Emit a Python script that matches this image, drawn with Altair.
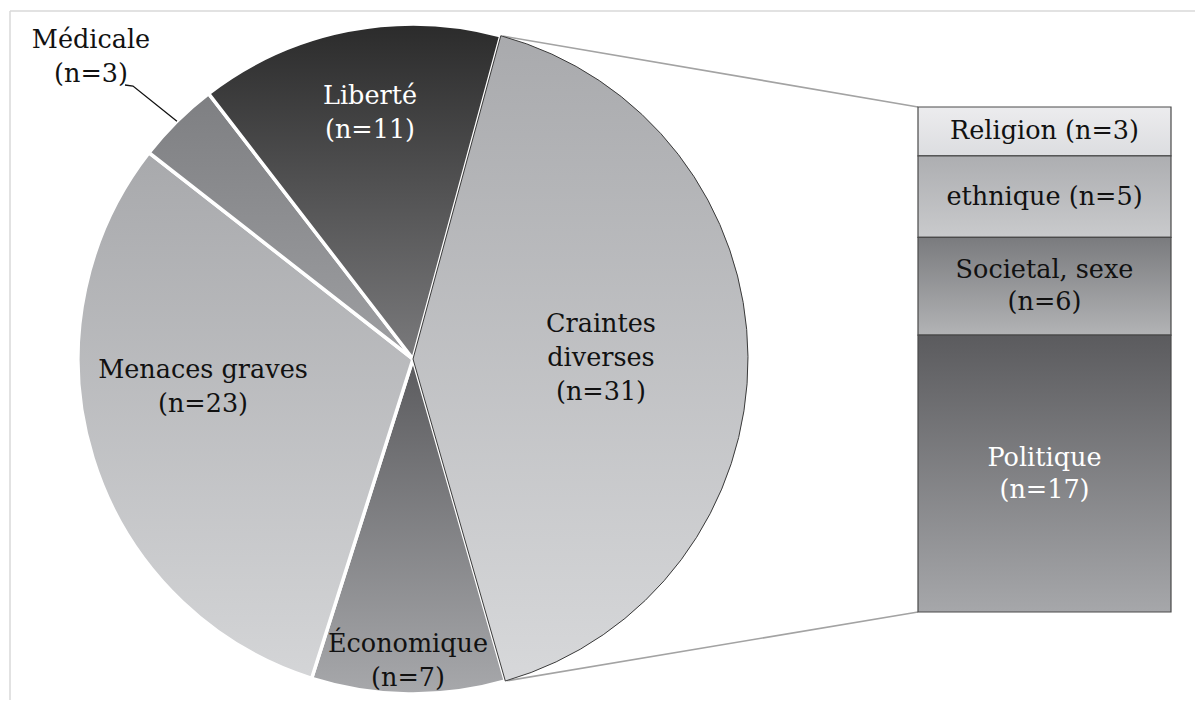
import math
import altair as alt
import pandas as pd

# ---------------- data ----------------
categories = ["Craintes diverses", "Économique", "Menaces graves", "Médicale", "Liberté"]
counts = [31, 7, 23, 3, 11]
cat_labels = ["Craintes\ndiverses\n(n=31)", "Économique\n(n=7)", "Menaces graves\n(n=23)",
              "Médicale\n(n=3)", "Liberté\n(n=11)"]

sub_categories = ["Religion", "ethnique", "Societal, sexe", "Politique"]
sub_counts = [3, 5, 6, 17]
sub_labels = ["Religion (n=3)", "ethnique (n=5)", "Societal, sexe\n(n=6)", "Politique\n(n=17)"]

# ---------------- layout / styles ----------------
W, H = 1187, 692
CX, CY, R = 405, 351, 335
START_DEG = 15.2
BAR_X0, BAR_X1 = 910, 1163
BAR_Y0, BAR_Y1 = 99, 604
FONT = "DejaVu Serif"
FS = 25.5
LH = 34
BAR_LH = 32

pie_grad = {
    "Craintes diverses": ("#a9aaad", "#d7d8da"),
    "Économique": ("#5b5b5e", "#a7a8ab"),
    "Menaces graves": ("#a8a9ac", "#d4d5d7"),
    "Médicale": ("#7e7f82", "#9e9fa2"),
    "Liberté": ("#2b2b2b", "#7a7a7c"),
}
bar_grad = {
    "Religion": ("#ececee", "#dcdde0"),
    "ethnique": ("#adaeb1", "#c9cacc"),
    "Societal, sexe": ("#7a7b7e", "#b2b3b5"),
    "Politique": ("#5b5b5e", "#a6a7aa"),
}
label_pos = {  # centre of each label's first line (layout)
    "Craintes diverses": (593, 316),
    "Économique": (400, 636),
    "Menaces graves": (195, 362),
    "Médicale": (83, 32),
    "Liberté": (362, 88),
}
white_text = {"Liberté", "Politique"}

def grad(top, bottom):
    return alt.LinearGradient(
        gradient="linear",
        stops=[alt.GradientStop(color=top, offset=0), alt.GradientStop(color=bottom, offset=1)],
        x1=0, x2=0, y1=0, y2=1,
    )

total = sum(counts)
sub_total = sum(sub_counts)

# ---------------- tables built from the data ----------------
cum = 0
rows = []
for c, n, lab in zip(categories, counts, cat_labels):
    lx, ly = label_pos[c]
    rows.append({"cat": c, "n": n, "t0": cum, "t1": cum + n, "label": lab, "lx": lx, "ly": ly})
    cum += n
pie_df = pd.DataFrame(rows)

cum = 0
brows = []
for c, n, lab in zip(sub_categories, sub_counts, sub_labels):
    brows.append({"sub": c, "n": n, "b0": cum, "b1": cum + n, "bmid": cum + n / 2,
                  "label": lab, "lines": lab.count("\n") + 1})
    cum += n
bar_df = pd.DataFrame(brows)

def pie_point(value, radius=R):
    ang = math.radians(START_DEG + value / total * 360)
    return CX + radius * math.sin(ang), CY - radius * math.cos(ang)

# connectors from Craintes diverses edges to bar corners
crow = pie_df[pie_df.cat == "Craintes diverses"].iloc[0]
p_top = pie_point(crow.t0)
p_bot = pie_point(crow.t1)
conn_df = pd.DataFrame({
    "x": [p_top[0], p_bot[0]], "y": [p_top[1], p_bot[1]],
    "x2": [BAR_X0, BAR_X0], "y2": [BAR_Y0, BAR_Y1],
})

# leader line for Médicale
mrow = pie_df[pie_df.cat == "Médicale"].iloc[0]
m_edge = pie_point((mrow.t0 + mrow.t1) / 2)
leader_df = pd.DataFrame({"x": [117, 125, m_edge[0]], "y": [77, 78, m_edge[1]], "o": [0, 1, 2]})

# ---------------- scales ----------------
theta_scale = alt.Scale(domain=[0, total],
                        range=[math.radians(START_DEG), math.radians(START_DEG) + 2 * math.pi])
px_x = alt.Scale(domain=[0, W], range=[0, W])
px_y = alt.Scale(domain=[0, H], range=[0, H])
bar_scale = alt.Scale(domain=[0, sub_total], range=[BAR_Y0, BAR_Y1])

layers = []

# frame
frame_src = pd.DataFrame({"a": [0]})
layers.append(alt.Chart(frame_src).mark_rule(color="#d9d9d9", strokeWidth=1.5).encode(
    x=alt.value(2), x2=alt.value(1200), y=alt.value(3)))
layers.append(alt.Chart(frame_src).mark_rule(color="#d9d9d9", strokeWidth=1.5).encode(
    x=alt.value(2), y=alt.value(3), y2=alt.value(710)))

# connectors
layers.append(alt.Chart(conn_df).mark_rule(color="#a3a3a3", strokeWidth=1.6).encode(
    x=alt.X("x:Q", scale=px_x, axis=None), y=alt.Y("y:Q", scale=px_y, axis=None),
    x2="x2:Q", y2="y2:Q"))

# pie slices (Craintes drawn last)
order = [c for c in categories if c != "Craintes diverses"] + ["Craintes diverses"]
for c in order:
    top, bottom = pie_grad[c]
    if c == "Craintes diverses":
        mk = alt.Chart(pie_df).mark_arc(outerRadius=R, fill=grad(top, bottom), stroke="#3a3a3a", strokeWidth=1)
    else:
        mk = alt.Chart(pie_df).mark_arc(outerRadius=R, fill=grad(top, bottom), stroke="white", strokeWidth=3.5)
    layers.append(mk.transform_filter(alt.datum.cat == c).encode(
        theta=alt.Theta("t0:Q", scale=theta_scale), theta2="t1:Q",
        x=alt.value(CX), y=alt.value(CY)))

# bar of pie
for c in sub_categories:
    top, bottom = bar_grad[c]
    layers.append(alt.Chart(bar_df).mark_rect(fill=grad(top, bottom), stroke="#4a4a4a", strokeWidth=1.2)
                  .transform_filter(alt.datum["sub"] == c).encode(
        y=alt.Y("b0:Q", scale=bar_scale, axis=None), y2="b1:Q",
        x=alt.value(BAR_X0), x2=alt.value(BAR_X1)))

# leader line
layers.append(alt.Chart(leader_df).mark_line(color="#111111", strokeWidth=1.3).encode(
    x=alt.X("x:Q", scale=px_x, axis=None), y=alt.Y("y:Q", scale=px_y, axis=None), order="o:Q"))

# pie labels
layers.append(alt.Chart(pie_df).mark_text(font=FONT, fontSize=FS, lineHeight=LH, lineBreak="\n",
                                          align="center", baseline="middle").encode(
    x=alt.X("lx:Q", scale=px_x, axis=None), y=alt.Y("ly:Q", scale=px_y, axis=None),
    text="label:N",
    color=alt.condition(alt.FieldOneOfPredicate(field="cat", oneOf=sorted(white_text)),
                        alt.value("white"), alt.value("#111111"))))

# bar labels (one-line and two-line labels centred in their segment)
for nl in (1, 2):
    layers.append(alt.Chart(bar_df).transform_filter(alt.datum.lines == nl).mark_text(
        font=FONT, fontSize=FS, lineHeight=BAR_LH, lineBreak="\n",
        align="center", baseline="middle", dy=-(nl - 1) * BAR_LH / 2).encode(
        y=alt.Y("bmid:Q", scale=bar_scale, axis=None),
        x=alt.value((BAR_X0 + BAR_X1) / 2),
        text="label:N",
        color=alt.condition(alt.FieldOneOfPredicate(field="sub", oneOf=sorted(white_text)),
                            alt.value("white"), alt.value("#111111"))))

chart = alt.layer(*layers).resolve_scale(x="independent", y="independent").properties(
    width=W, height=H, padding=0, autosize=alt.AutoSizeParams(type="none"), background="white"
).configure_view(stroke=None)

chart.save("out.html", embed_options={"renderer": "svg", "actions": False})
